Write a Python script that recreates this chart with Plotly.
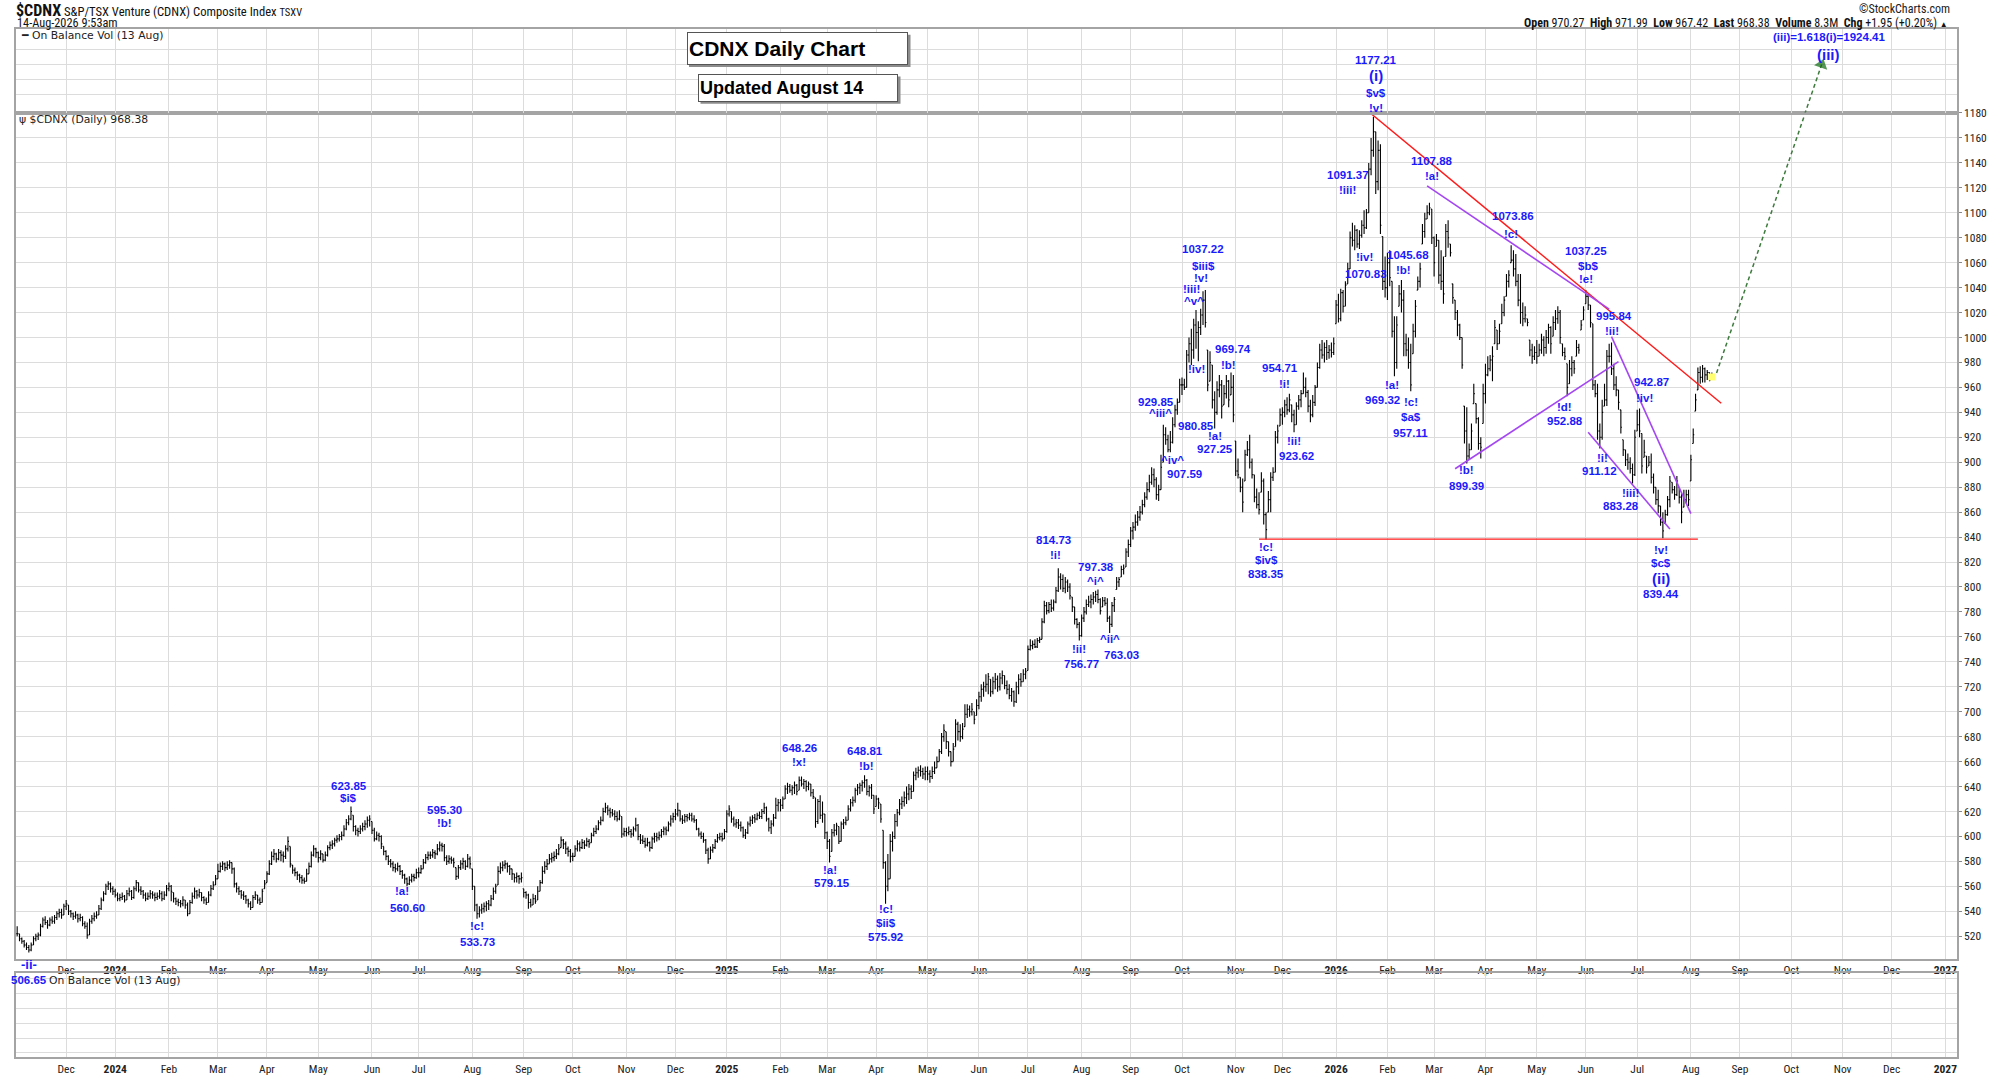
import pandas as pd
import plotly.graph_objects as go

# ---------------- daily bars: (low, high, close) per month ----------------
bars_2023_11 = [(520,528,522),(516,522,518),(514,519,516),(511,517,513),(509,515,511),
    (507,513,509),(508,515,513),(513,520,518),(516,522,520),(517,523,521),
    (520,530,528),(527,535,533),(529,536,531),(526,533,529),(528,535,533),
    (530,536,532),(530,537,535),(533,540,538),(535,542,539),(534,542,537),
    (537,546,544)]
bars_2023_12 = [(541,549,546),(537,545,540),(535,541,538),(533,539,536),(534,540,537),
    (531,538,534),(532,538,535),(528,536,530),(526,532,528),(518,531,521),
    (521,534,532),(530,537,534),(532,539,536),(534,540,537),(537,545,542),
    (541,551,549),(548,556,554),(553,562,560),(557,564,562),(555,563,558),
    (553,560,556)]
bars_2024_01 = [(551,558,553),(548,555,550),(548,554,551),(549,555,552),(547,553,549),
    (549,557,554),(552,559,556),(549,557,551),(550,560,558),(556,565,563),
    (555,563,557),(553,560,556),(550,557,553),(548,555,550),(549,555,552),
    (550,557,554),(550,556,553),(548,555,551),(549,555,552),(550,557,554),
    (548,556,550),(549,556,553),(552,561,558)]
bars_2024_02 = [(556,563,560),(548,561,556),(547,555,550),(545,551,548),(544,550,547),
    (543,549,546),(544,552,549),(542,549,545),(536,547,538),(538,549,547),
    (546,555,552),(550,559,556),(550,557,553),(551,558,555),(548,555,551),
    (546,552,549),(545,551,547),(547,556,553),(552,561,558),(557,564,561),
    (561,569,566)]
bars_2024_03 = [(566,578,572),(571,579,576),(573,580,578),(572,579,575),(573,580,577),
    (574,581,579),(570,579,574),(559,575,562),(555,563,558),(553,560,556),
    (550,557,553),(549,556,552),(546,553,549),(543,550,546),(541,548,543),
    (543,553,551),(549,556,553),(546,553,549),(545,551,547),(547,558,556),
    (558,565,562)]
bars_2024_04 = [(563,572,570),(569,581,578),(577,588,584),(581,590,586),(579,587,582),
    (581,590,587),(580,589,585),(579,588,584),(582,593,590),(588,600,596),
    (575,592,578),(570,577,573),(568,575,571),(565,572,569),(563,570,567),
    (562,569,565),(562,567,564),(564,574,570),(570,579,576),(575,588,585),
    (584,593,590),(583,591,587)]
bars_2024_05 = [(579,588,583),(581,589,586),(579,586,581),(580,588,585),(584,593,591),
    (589,596,593),(590,597,594),(592,599,597),(595,601,598),(596,602,600),
    (597,604,601),(600,609,606),(605,614,611),(609,617,614),(613,624,620),
    (604,617,608),(601,609,605),(600,607,604),(602,609,606),(604,611,608),
    (605,613,610),(607,616,613),(608,617,614)]
bars_2024_06 = [(602,612,605),(596,607,598),(597,604,601),(596,603,600),(590,601,594),
    (585,592,588),(581,589,584),(577,585,580),(575,582,578),(572,580,575),
    (571,578,574),(572,579,576),(569,577,572),(566,573,569),(562,570,566),
    (560,567,562),(561,568,565),(563,570,568),(564,570,567),(566,574,571)]
bars_2024_07 = [(567,575,571),(570,577,574),(574,582,579),(578,586,583),(581,588,585),
    (582,588,585),(583,590,587),(582,589,586),(585,594,590),(588,596,593),
    (588,595,592),(580,594,583),(577,585,580),(578,585,582),(578,584,581),
    (575,583,579),(565,575,568),(566,577,575),(573,581,578),(574,583,580),
    (573,581,576),(575,586,582),(574,584,578)]
bars_2024_08 = [(557,574,560),(540,560,545),(534,546,538),(535,544,541),(538,546,542),
    (539,547,544),(540,548,546),(541,549,545),(544,553,550),(549,559,556),
    (554,562,560),(561,576,572),(570,579,575),(572,580,577),(574,581,578),
    (571,579,576),(569,577,574),(565,574,570),(563,570,567),(563,571,568),
    (562,569,566),(563,571,567)]
bars_2024_09 = [(551,558,555),(550,556,553),(542,554,547),(543,550,545),(545,554,550),
    (546,553,548),(549,560,556),(556,565,563),(562,576,572),(570,580,576),
    (573,582,578),(578,586,582),(579,587,583),(580,588,584),(582,590,586),
    (585,594,590),(591,600,597),(590,598,594),(586,596,590),(584,592,588),
    (579,590,584)]
bars_2024_10 = [(580,587,584),(584,593,590),(588,597,594),(588,596,591),(590,598,595),
    (590,597,593),(592,599,596),(591,598,594),(595,603,601),(600,607,604),
    (602,609,606),(605,613,611),(609,616,613),(612,623,620),(619,627,623),
    (617,625,621),(615,623,619),(616,622,618),(613,621,616),(612,620,614),
    (613,621,617),(599,616,602),(600,607,604)]
bars_2024_11 = [(600,607,603),(601,608,604),(599,606,602),(600,608,606),(604,615,609),
    (597,610,600),(594,602,597),(594,601,596),(591,599,593),(592,599,595),
    (588,596,591),(590,600,598),(595,603,600),(596,603,599),(597,604,601),
    (599,606,604),(601,608,606),(601,608,605),(604,612,610),(608,617,614),
    (611,619,616)]
bars_2024_12 = [(613,622,618),(616,627,621),(612,621,614),(610,617,613),(611,618,616),
    (612,618,615),(613,619,617),(612,619,614),(611,617,613),(605,614,606),
    (600,607,602),(598,604,600),(595,603,597),(586,598,589),(578,591,582),
    (582,592,589),(587,594,591),(590,598,596),(595,602,599),(597,603,600),
    (596,603,598),(598,606,604)]
bars_2025_01 = [(603,621,618),(616,625,622),(611,620,614),(608,616,610),(607,614,611),
    (606,614,609),(604,612,607),(599,608,601),(598,606,603),(602,612,610),
    (608,616,613),(610,617,615),(611,618,614),(613,619,617),(614,620,616),
    (614,622,620),(618,627,623),(612,624,614),(604,615,607),(602,613,610),
    (608,618,615),(614,631,625),(620,630,627)]
bars_2025_02 = [(620,630,625),(622,632,630),(630,641,638),(634,643,640),(635,642,637),
    (633,641,639),(634,644,641),(633,642,636),(637,648,645),(640,648,642),
    (638,646,644),(636,645,640),(637,644,642),(632,642,635),(630,638,632),
    (607,631,612),(610,630,628),(614,633,617),(611,628,618),(598,618,603)]
bars_2025_03 = [(590,604,596),(579,598,584),(588,606,603),(600,610,605),(601,611,609),
    (594,608,596),(596,612,610),(606,614,611),(609,616,613),(613,625,622),
    (620,630,627),(624,632,629),(627,639,637),(633,642,639),(634,643,641),
    (636,645,643),(639,649,645),(633,646,636),(632,641,639),(630,642,633),
    (618,633,622)]
bars_2025_04 = [(624,633,630),(622,631,627),(611,626,614),(574,605,579),(546,580,560),
    (556,586,566),(566,602,596),(588,604,600),(598,618,612),(608,622,619),
    (617,630,626),(622,632,628),(624,636,631),(626,640,634),(629,642,638),
    (630,641,636),(636,652,649),(645,655,651),(647,656,653),(648,657,652),
    (646,655,650),(645,656,652)]
bars_2025_05 = [(645,656,650),(643,653,648),(646,656,652),(650,660,655),(655,664,660),
    (660,670,668),(666,683,680),(676,690,685),(670,684,676),(664,676,668),
    (656,668,660),(660,675,670),(672,694,690),(677,692,684),(676,690,680),
    (678,691,686),(688,706,698),(695,706,702),(696,705,700),(697,707,702),
    (690,700,694),(697,710,705)]
bars_2025_06 = [(702,716,712),(708,722,718),(712,724,720),(716,730,722),(714,731,728),
    (712,726,716),(714,728,724),(718,731,726),(716,729,720),(717,731,727),
    (722,733,729),(718,729,721),(714,725,718),(710,722,713),(708,719,716),
    (704,717,708),(707,724,720),(714,730,726),(720,731,724),(724,734,730),
    (726,735,732)]
bars_2025_07 = [(733,753,750),(749,758,753),(750,757,754),(751,758,752),(751,759,757),
    (755,760,758),(758,775,772),(771,789,785),(778,788,781),(779,788,786),
    (780,790,783),(781,790,788),(787,800,797),(796,815,808),(798,811,806),
    (796,810,799),(795,808,804),(796,806,800),(790,803,793),(780,792,784),
    (770,784,774),(767,775,770),(757,772,761)]
bars_2025_08 = [(760,778,775),(772,784,780),(778,790,786),(784,793,788),(783,794,790),
    (786,796,792),(788,797,794),(787,798,790),(778,791,781),(784,792,789),
    (785,792,787),(772,791,775),(763,777,770),(768,788,785),(780,792,790),
    (798,808,804),(800,808,806),(808,817,814),(810,818,815),(816,831,828),
    (824,838,834)]
bars_2025_09 = [(832,848,845),(838,852,848),(845,858,852),(849,861,856),(853,865,860),
    (858,870,866),(864,876,872),(870,884,878),(876,890,884),(882,896,890),
    (880,895,886),(870,888,874),(869,882,878),(878,906,896),(900,930,922),
    (914,928,918),(908,922,910),(908,925,916),(915,936,930),(928,946,942),
    (938,951,948),(948,967,962)]
bars_2025_10 = [(954,968,962),(958,967,960),(960,990,986),(980,1000,995),(978,1007,990),
    (983,1015,1010),(991,1022,1004),(981,1013,1008),(1002,1023,1018),(1010,1037,1030),
    (1008,1038,1012),(957,990,962),(965,989,980),(943,978,950),(927,957,940),
    (938,965,958),(952,970,962),(935,966,945),(946,962,955),(951,970,965),
    (944,966,950),(954,972,960),(932,970,938)]
bars_2025_11 = [(889,917,893),(887,903,890),(876,888,880),(860,887,868),(885,910,906),
    (905,917,910),(895,922,900),(887,903,890),(868,890,872),(863,879,866),
    (858,876,862),(876,892,885),(850,887,858),(838,860,846),(860,877,870),
    (860,892,888),(885,896,892),(892,925,920),(915,930,925),(929,943,938)]
bars_2025_12 = [(930,944,940),(936,950,946),(938,952,942),(940,955,950),(932,946,938),
    (924,942,930),(930,948,945),(942,954,950),(944,958,955),(955,972,960),
    (952,968,956),(940,958,945),(932,950,938),(936,954,948),(945,962,960),
    (960,980,976),(975,995,990),(983,998,986),(980,996,992),(982,998,988),
    (983,994,990),(984,996,988),(986,1000,995)]
bars_2026_01 = [(1011,1030,1026),(1012,1035,1015),(1013,1039,1036),(1020,1038,1025),(1025,1045,1042),
    (1043,1060,1055),(1055,1085,1080),(1073,1092,1078),(1070,1090,1086),(1072,1087,1075),
    (1071,1086,1082),(1080,1094,1090),(1083,1102,1088),(1087,1103,1100),(1100,1140,1135),
    (1130,1160,1150),(1145,1177,1165),(1115,1165,1125),(1118,1158,1150),(1083,1155,1090),
    (1038,1081,1045),(1032,1065,1040)]
bars_2026_02 = [(1030,1068,1060),(1041,1070,1048),(1000,1045,1005),(969,1017,980),(975,1017,1010),
    (1025,1042,1035),(1020,1046,1030),(985,1038,995),(985,1003,990),(975,1000,980),
    (957,995,962),(987,1011,1005),(1000,1030,1025),(1038,1049,1045),(1040,1060,1055),
    (1075,1091,1085),(1080,1100,1095),(1095,1106,1100),(1098,1108,1104),(1075,1103,1080)]
bars_2026_03 = [(1049,1081,1060),(1073,1083,1078),(1043,1078,1050),(1038,1070,1045),(1027,1065,1035),
    (1065,1091,1085),(1072,1094,1080),(1065,1075,1068),(1027,1043,1032),(1014,1030,1020),
    (1001,1022,1010),(998,1011,1000),(975,1000,978),(915,945,925),(899,944,905),
    (902,915,910),(910,931,925),(947,963,955),(931,947,935),(910,936,915),
    (903,920,912),(931,963,955)]
bars_2026_04 = [(947,979,970),(969,985,975),(973,986,982),(965,993,985),(995,1014,1008),
    (990,1006,995),(995,1011,1005),(1011,1027,1020),(1017,1033,1030),(1033,1051,1045),
    (1040,1054,1050),(1060,1074,1062),(1049,1070,1055),(1041,1067,1045),(1025,1051,1030),
    (1011,1051,1020),(1009,1028,1015),(1012,1025,1018),(1009,1015,1012),(985,998,990),
    (979,995,985),(982,993,988)]
bars_2026_05 = [(979,998,985),(985,995,990),(987,1003,998),(985,1001,992),(987,1006,1000),
    (995,1011,1008),(987,1009,995),(1001,1017,1012),(1006,1022,1015),(1011,1025,1020),
    (995,1022,1000),(985,995,988),(982,992,985),(953,979,960),(963,982,975),
    (969,985,980),(971,982,975),(985,998,992),(987,995,990),(1006,1014,1010),
    (1014,1025,1022)]
bars_2026_06 = [(1027,1038,1033),(1022,1035,1026),(1008,1026,1012),(958,1011,962),(952,966,955),
    (918,963,925),(911,931,920),(918,950,940),(945,963,950),(945,990,985),
    (980,995,985),(970,996,975),(958,979,962),(953,969,958),(942,958,948),
    (923,942,928),(905,918,910),(897,910,902),(894,907,900),(891,904,895),
    (883,899,890),(889,926,920)]
bars_2026_07 = [(925,942,930),(920,943,925),(891,923,897),(904,918,908),(891,905,896),
    (897,905,900),(883,907,888),(875,891,880),(866,880,870),(859,878,865),
    (849,865,852),(839,860,845),(851,862,858),(857,873,870),(864,889,885),
    (875,884,878),(870,881,874),(873,889,885),(867,880,872),(851,875,860),
    (864,878,870),(867,878,874),(865,878,870)]
bars_2026_08 = [(885,906,902),(915,927,922),(941,955,950),(958,976,972),(963,977,968),
    (964,978,975),(964,976,970),(966,974,972),(965,972,966),(967.42,971.99,968.38)]

month_starts = ["2023-11-02", "2023-12-01",
    "2024-01-01", "2024-02-01", "2024-03-01", "2024-04-01", "2024-05-01", "2024-06-01",
    "2024-07-01", "2024-08-01", "2024-09-01", "2024-10-01", "2024-11-01", "2024-12-01",
    "2025-01-01", "2025-02-01", "2025-03-01", "2025-04-01", "2025-05-01", "2025-06-01",
    "2025-07-01", "2025-08-01", "2025-09-01", "2025-10-01", "2025-11-01", "2025-12-01",
    "2026-01-01", "2026-02-01", "2026-03-01", "2026-04-01", "2026-05-01", "2026-06-01",
    "2026-07-01", "2026-08-01"]
month_bars = [bars_2023_11, bars_2023_12,
    bars_2024_01, bars_2024_02, bars_2024_03, bars_2024_04, bars_2024_05, bars_2024_06,
    bars_2024_07, bars_2024_08, bars_2024_09, bars_2024_10, bars_2024_11, bars_2024_12,
    bars_2025_01, bars_2025_02, bars_2025_03, bars_2025_04, bars_2025_05, bars_2025_06,
    bars_2025_07, bars_2025_08, bars_2025_09, bars_2025_10, bars_2025_11, bars_2025_12,
    bars_2026_01, bars_2026_02, bars_2026_03, bars_2026_04, bars_2026_05, bars_2026_06,
    bars_2026_07, bars_2026_08]
last_day = "2026-08-14"

# ---------------- axis ticks ----------------
tick_labels = ["Dec",
    "<b>2024</b>", "Feb", "Mar", "Apr", "May", "Jun", "Jul", "Aug", "Sep", "Oct", "Nov", "Dec",
    "<b>2025</b>", "Feb", "Mar", "Apr", "May", "Jun", "Jul", "Aug", "Sep", "Oct", "Nov", "Dec",
    "<b>2026</b>", "Feb", "Mar", "Apr", "May", "Jun", "Jul", "Aug", "Sep", "Oct", "Nov", "Dec",
    "<b>2027</b>"]
price_ticks = list(range(520, 1181, 20))
top_panel_grid = [1194.6, 1206.5, 1218.5, 1230.5]
bottom_panel_grid = [5, 19, 34.3, 49, 64.3, 79.3]

# ---------------- wave labels (main panel) ----------------
wave_text = ["623.85", "$i$", "595.30", "!b!", "!a!", "560.60", "!c!", "533.73",
    "648.26", "!x!", "648.81", "!b!", "!a!", "579.15", "!c!", "$ii$", "575.92",
    "814.73", "!i!", "797.38", "^i^", "!ii!", "756.77", "^ii^", "763.03",
    "!c!", "$iv$", "838.35",
    "1037.22", "$iii$", "!v!", "!iii!", "^v^", "!iv!", "929.85", "^iii^", "^iv^", "907.59",
    "980.85", "969.74", "!b!", "!a!", "927.25", "954.71", "!i!", "!ii!", "923.62",
    "1091.37", "!iii!", "!iv!", "1070.83", "1045.68", "!b!", "!a!", "969.32",
    "!c!", "$a$", "957.11", "1107.88", "!a!", "!b!", "899.39", "1073.86", "!c!",
    "1037.25", "$b$", "!e!", "!d!", "952.88", "995.84", "!ii!", "!i!", "911.12",
    "942.87", "!iv!", "!iii!", "883.28", "!v!", "$c$", "(ii)", "839.44"]
wave_date = ["2024-05-20", "2024-05-20", "2024-07-16", "2024-07-16", "2024-06-20", "2024-06-24",
    "2024-08-05", "2024-08-05",
    "2025-02-13", "2025-02-13", "2025-03-25", "2025-03-26", "2025-03-04", "2025-03-05",
    "2025-04-07", "2025-04-07", "2025-04-07",
    "2025-07-16", "2025-07-17", "2025-08-11", "2025-08-11", "2025-07-31", "2025-08-01",
    "2025-08-19", "2025-08-26",
    "2025-11-20", "2025-11-20", "2025-11-20",
    "2025-10-14", "2025-10-14", "2025-10-13", "2025-10-07", "2025-10-08", "2025-10-09",
    "2025-09-16", "2025-09-18", "2025-09-25", "2025-10-02",
    "2025-10-09", "2025-10-31", "2025-10-29", "2025-10-21", "2025-10-21", "2025-11-28",
    "2025-12-02", "2025-12-08", "2025-12-09",
    "2026-01-08", "2026-01-08", "2026-01-19", "2026-01-20", "2026-02-13", "2026-02-11",
    "2026-02-04", "2026-01-29",
    "2026-02-16", "2026-02-16", "2026-02-16", "2026-02-27", "2026-02-27", "2026-03-20",
    "2026-03-20", "2026-04-17", "2026-04-16",
    "2026-06-01", "2026-06-02", "2026-06-01", "2026-05-19", "2026-05-19", "2026-06-17",
    "2026-06-16", "2026-06-10", "2026-06-09",
    "2026-07-09", "2026-07-06", "2026-06-26", "2026-06-22", "2026-07-15", "2026-07-15",
    "2026-07-15", "2026-07-15"]
wave_price = [640.5, 631.2, 621.1, 610.4, 556.5, 542.7, 528.5, 515.7,
    670.5, 659.7, 668.4, 656.5, 573.0, 562.4, 542.0, 530.6, 519.5,
    837.9, 825.3, 816.0, 805.1, 749.9, 737.9, 757.9, 745.1,
    831.7, 821.9, 810.7,
    1070.7, 1057.3, 1047.7, 1039.2, 1029.1, 974.4, 948.0, 939.2, 901.9, 890.9,
    929.1, 990.7, 977.9, 921.3, 910.7, 975.2, 962.9, 917.1, 905.3,
    1130.0, 1118.0, 1064.7, 1051.1, 1066.0, 1054.5, 962.0, 950.0,
    948.1, 936.1, 923.3, 1141.2, 1129.2, 893.5, 881.2, 1097.2, 1083.3,
    1069.2, 1057.5, 1046.8, 944.1, 932.7, 1017.2, 1005.5, 903.3, 892.7,
    964.4, 951.3, 875.3, 864.7, 830.0, 819.3, 806.8, 794.0]

# labels that sit in the upper (OBV) panel, same price scale continued
top_text = ["1177.21", "(i)", "$v$", "!v!", "(iii)=1.618(i)=1924.41", "(iii)"]
top_date = ["2026-01-26", "2026-01-26", "2026-01-26", "2026-01-26", "2026-10-23", "2026-10-23"]
top_price = [1222.4, 1209.7, 1195.9, 1183.5, 1240.5, 1226.4]

# ---------------- drawn lines (date, price) ----------------
red_trend = [("2026-01-19", 1184.1), ("2026-08-20", 947.3)]
red_support = [("2025-11-17", 838.35), ("2026-08-06", 838.35)]
purple_lines = [
    [("2026-02-25", 1121.5), ("2026-06-15", 1022.8)],
    [("2026-03-13", 894.8), ("2026-06-19", 980.7)],
    [("2026-06-16", 1000.7), ("2026-08-03", 858.8)],
    [("2026-06-02", 924.1), ("2026-07-21", 846.5)],
]
green_arrow = [("2026-08-18", 971.6), ("2026-10-20", 1218.5)]

# ---------------- build daily series ----------------
dates, lows, highs, closes = [], [], [], []
end_all = pd.Timestamp(last_day)
for start, bars in zip(month_starts, month_bars):
    s = pd.Timestamp(start)
    e = min(s + pd.offsets.MonthEnd(0), end_all)
    days = pd.bdate_range(s, e)
    for d, (lo, hi, cl) in zip(days, bars):
        dates.append(d.strftime("%Y-%m-%d"))
        lows.append(lo)
        highs.append(hi)
        closes.append(cl)
opens = []
prev = closes[0]
for lo, hi, cl in zip(lows, highs, closes):
    opens.append(min(max(prev, lo), hi))
    prev = cl

tick_dates = [pd.offsets.BDay().rollforward(m).strftime("%Y-%m-%d")
              for m in pd.date_range("2023-12-01", "2027-01-01", freq="MS")]

BLUE = "#1a1aff"
GRID = "#dcdcdc"
BORDER = "#a4a4a4"
NARROW = "Liberation Sans Narrow, Arial Narrow, Roboto Condensed, Roboto, sans-serif"
LAB = "Liberation Sans, Arial, sans-serif"
XR = ["2023-11-01 12:00", "2027-01-08"]
BREAKS = [dict(bounds=["sat", "mon"])]
W, H = 2000, 1080
OFF = 7   # page renders a few px lower; compensate


def px(x):
    return x / W


def py(y):
    return 1 - (y - OFF) / H


fig = go.Figure()

# empty trace so that the lower (On Balance Vol) panel is drawn
fig.add_trace(go.Scatter(x=[dates[0]], y=[None], mode="lines", hoverinfo="skip",
                         xaxis="x3", yaxis="y3"))

# yellow highlight of the last bar
fig.add_trace(go.Scatter(x=[dates[-1]], y=[closes[-1]], mode="markers",
    marker=dict(symbol="square", size=7, color="#ffff70"), hoverinfo="skip",
    xaxis="x", yaxis="y"))

fig.add_trace(go.Ohlc(x=dates, open=opens, high=highs, low=lows, close=closes,
    increasing=dict(line=dict(color="black", width=1.1)),
    decreasing=dict(line=dict(color="black", width=1.1)),
    tickwidth=0.45, hoverinfo="skip", xaxis="x", yaxis="y"))


def add_line(pts, color, width, dash="solid", xa="x", ya="y"):
    fig.add_trace(go.Scatter(x=[p[0] for p in pts], y=[p[1] for p in pts], mode="lines",
        line=dict(color=color, width=width, dash=dash), hoverinfo="skip",
        xaxis=xa, yaxis=ya))


add_line(red_support, "#ff1a1a", 1.4)
add_line(red_trend, "#ff1a1a", 1.4)
for pl in purple_lines:
    add_line(pl, "#a447f2", 1.6)
add_line(green_arrow, "#3d7a3d", 1.5, dash="4px,3px")
# continuation of the arrow in the upper panel, with arrow head
fig.add_trace(go.Scatter(x=[p[0] for p in green_arrow], y=[p[1] for p in green_arrow],
    mode="lines+markers", line=dict(color="#3d7a3d", width=1.5, dash="4px,3px"),
    marker=dict(symbol="triangle-up", size=[0, 12], color="#0e6a0e", angleref="previous",
                line=dict(width=0)),
    hoverinfo="skip", xaxis="x2", yaxis="y2"))

annotations = []
for t, d, p in zip(wave_text, wave_date, wave_price):
    big = t.startswith("(")
    annotations.append(dict(x=d, y=p, xref="x", yref="y", text="<b>%s</b>" % t,
        showarrow=False, font=dict(family=LAB, size=15 if big else 11.5, color=BLUE)))
for t, d, p in zip(top_text, top_date, top_price):
    big = t in ("(i)", "(iii)")
    annotations.append(dict(x=d, y=p, xref="x2", yref="y2", text="<b>%s</b>" % t,
        showarrow=False, font=dict(family=LAB, size=15 if big else 11.5, color=BLUE)))

# panel captions
annotations += [
    dict(x=px(19), y=py(36), xref="paper", yref="paper", xanchor="left", yanchor="middle",
         text="━ On Balance Vol (13 Aug)", showarrow=False,
         font=dict(family="DejaVu Sans", size=10.8, color="#222")),
    dict(x=px(17), y=py(120), xref="paper", yref="paper", xanchor="left", yanchor="middle",
         text="ψ $CDNX (Daily) 968.38", showarrow=False,
         font=dict(family="DejaVu Sans", size=10.8, color="#222")),
    dict(x=px(47), y=py(986.7), xref="paper", yref="paper", xanchor="left", yanchor="middle",
         text="On Balance Vol (13 Aug)", showarrow=False,
         font=dict(family="DejaVu Sans", size=10.8, color="#222")),
    dict(x="2023-11-09", y=py(970.7), xref="x", yref="paper", yanchor="middle",
         text="<b>-ii-</b>", showarrow=False, font=dict(family=LAB, size=13, color=BLUE)),
    dict(x="2023-11-09", y=py(986.7), xref="x", yref="paper", yanchor="middle",
         text="<b>506.65</b>", showarrow=False, font=dict(family=LAB, size=11.5, color=BLUE)),
]

# header texts
annotations += [
    dict(x=px(14), y=py(10.5), xref="paper", yref="paper", xanchor="left", yanchor="middle",
         text="<b><span style='font-size:16px'>$CDNX</span></b> S&P/TSX Venture (CDNX) Composite Index "
              "<span style='font-size:10.5px'>TSXV</span>",
         showarrow=False, font=dict(family=NARROW, size=12.6, color="#111")),
    dict(x=px(15), y=py(23.5), xref="paper", yref="paper", xanchor="left", yanchor="middle",
         text="14-Aug-2026 9:53am", showarrow=False, font=dict(family=NARROW, size=12.3, color="#111")),
    dict(x=px(1952), y=py(9), xref="paper", yref="paper", xanchor="right", yanchor="middle",
         text="©StockCharts.com", showarrow=False, font=dict(family=NARROW, size=12, color="#222")),
    dict(x=px(1950), y=py(23.5), xref="paper", yref="paper", xanchor="right", yanchor="middle",
         text="<b>Open</b> 970.27  <b>High</b> 971.99  <b>Low</b> 967.42  <b>Last</b> 968.38  "
              "<b>Volume</b> 8.3M  <b>Chg</b> +1.95 (+0.20%) <span style='font-size:8px'>▲</span>",
         showarrow=False, font=dict(family=NARROW, size=12, color="#111")),
]

# title boxes
annotations += [
    dict(x=px(686.7), y=py(32.3), xref="paper", yref="paper", xanchor="left", yanchor="top",
         text="<b>CDNX Daily Chart</b>", showarrow=False, align="left",
         width=217, height=29, bgcolor="white", bordercolor="#555", borderwidth=1, borderpad=1,
         font=dict(family=LAB, size=21, color="black")),
    dict(x=px(698.3), y=py(74.3), xref="paper", yref="paper", xanchor="left", yanchor="top",
         text="<b>Updated August 14</b>", showarrow=False, align="left",
         width=196, height=24, bgcolor="white", bordercolor="#555", borderwidth=1, borderpad=1,
         font=dict(family=LAB, size=18, color="black")),
]

shapes = [
    dict(type="rect", xref="paper", yref="paper", x0=px(689), x1=px(910.5),
         y0=py(67.5), y1=py(35), fillcolor="#8c8c8c", line=dict(width=0), layer="above"),
    dict(type="rect", xref="paper", yref="paper", x0=px(700.5), x1=px(900.5),
         y0=py(104.5), y1=py(77), fillcolor="#8c8c8c", line=dict(width=0), layer="above"),
]

xcommon = dict(type="date", range=XR, rangebreaks=BREAKS, tickvals=tick_dates, ticktext=tick_labels,
               showgrid=True, gridcolor=GRID, gridwidth=1, showline=True, linecolor=BORDER,
               linewidth=1.5, mirror=True, ticks="", zeroline=False, domain=[px(16), px(1957)],
               tickfont=dict(family=NARROW, size=11.5, color="#222"), fixedrange=True,
               rangeslider=dict(visible=False))

fig.update_layout(
    width=W, height=H, margin=dict(l=0, r=0, t=0, b=0),
    paper_bgcolor="white", plot_bgcolor="white", showlegend=False,
    xaxis=dict(**xcommon, anchor="y"),
    yaxis=dict(domain=[py(965), py(113.3)], range=[501.9, 1180.3], side="right",
               tickvals=price_ticks, showgrid=True, gridcolor=GRID, showline=True,
               linecolor=BORDER, linewidth=1.5, mirror=True, ticks="outside", ticklen=3,
               tickcolor="#888", zeroline=False, anchor="x",
               tickfont=dict(family=NARROW, size=11.5, color="#222")),
    xaxis2=dict(**xcommon, anchor="y2", matches="x", showticklabels=False),
    yaxis2=dict(domain=[py(113.3), py(29.3)], range=[1180, 1180 + 84 / 1.2561],
                tickvals=top_panel_grid,
                showticklabels=False, showgrid=True, gridcolor=GRID, showline=True,
                linecolor=BORDER, linewidth=1.5, mirror=True, zeroline=False, anchor="x2"),
    xaxis3=dict(**xcommon, anchor="y3", matches="x"),
    yaxis3=dict(domain=[py(1064.3), py(979.3)], range=[0, 85], tickvals=bottom_panel_grid,
                showticklabels=False, showgrid=True, gridcolor=GRID, showline=True,
                linecolor=BORDER, linewidth=1.5, mirror=True, zeroline=False, anchor="x3"),
    annotations=annotations, shapes=shapes,
)

fig.write_html("out.html", include_plotlyjs=True, config={"displayModeBar": False},
               post_script="document.body.style.margin='0';document.body.style.overflow='hidden';")
